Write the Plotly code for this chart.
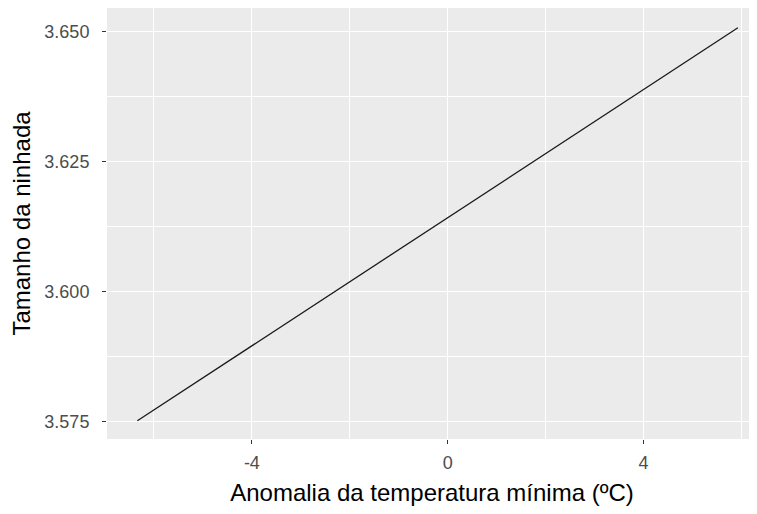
import plotly.graph_objects as go

# Data
anomalia = [-6.34, 5.93]
tamanho = [3.5752, 3.6508]

x_tickvals = [-4, 0, 4]
x_ticktext = ["-4", "0", "4"]
y_tickvals = [3.575, 3.600, 3.625, 3.650]
y_ticktext = ["3.575", "3.600", "3.625", "3.650"]

fig = go.Figure()
fig.add_trace(go.Scatter(x=anomalia, y=tamanho, mode="lines",
                         line=dict(color="#1a1a1a", width=1.3),
                         showlegend=False, hoverinfo="skip"))

font_family = "Liberation Sans, Arial, sans-serif"

fig.update_layout(
    width=749, height=506,
    margin=dict(l=99, r=0, t=0, b=75, autoexpand=False),
    paper_bgcolor="white",
    plot_bgcolor="#EBEBEB",
    font=dict(family=font_family),
    xaxis=dict(
        range=[-6.96, 6.32],
        tickvals=x_tickvals, ticktext=x_ticktext,
        showgrid=True, gridcolor="white", gridwidth=1.3,
        minor=dict(dtick=2, tick0=0, showgrid=True, gridcolor="white", gridwidth=0.6),
        zeroline=False, showline=False,
        ticks="outside", ticklen=4, tickcolor="#333333", tickwidth=1.1,
        tickfont=dict(size=18, color="#4D4D4D", family=font_family),
        ticklabelstandoff=3,
        title=dict(text="Anomalia da temperatura mínima (ºC)",
                   font=dict(size=24, color="black", family=font_family),
                   standoff=12),
        automargin=False,
    ),
    yaxis=dict(
        range=[3.5717, 3.6546],
        tickvals=y_tickvals, ticktext=y_ticktext,
        showgrid=True, gridcolor="white", gridwidth=1.3,
        minor=dict(dtick=0.0125, tick0=3.575, showgrid=True, gridcolor="white", gridwidth=0.6),
        zeroline=False, showline=False,
        ticks="outside", ticklen=4, tickcolor="#333333", tickwidth=1.1,
        tickfont=dict(size=18, color="#4D4D4D", family=font_family),
        ticklabelstandoff=9,
        title=dict(text="Tamanho da ninhada",
                   font=dict(size=24, color="black", family=font_family),
                   standoff=6),
        automargin=False,
    ),
)

fig.write_html("out.html")
